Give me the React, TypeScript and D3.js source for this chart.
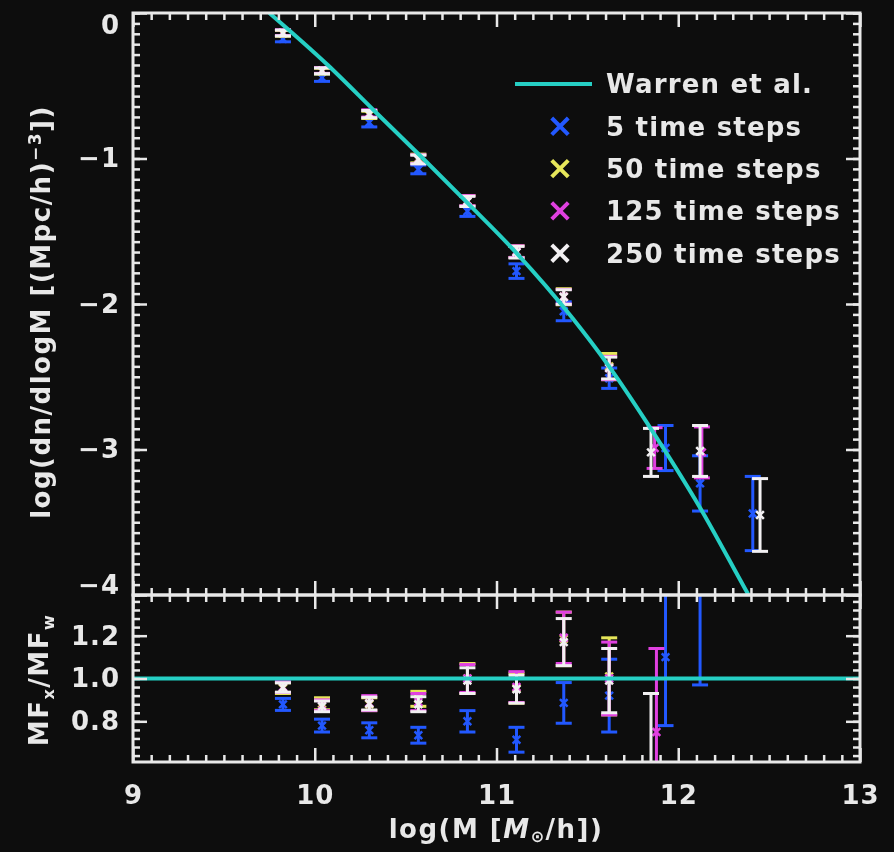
import React, { useEffect, useRef } from "react";
import * as d3 from "d3";

// --- values ---

// mass bins (log M) for each run, upper panel
const topBins5 = [9.825, 10.04, 10.3, 10.57, 10.84, 11.11, 11.37, 11.62, 11.93, 12.12, 12.41];
const topBins50 = [9.825, 10.04, 10.3, 10.57, 10.84, 11.11, 11.37, 11.62];
const topBins125 = [9.825, 10.04, 10.3, 10.57, 10.84, 11.11, 11.37, 11.62, 11.87, 12.13];
const topBins250 = [9.825, 10.04, 10.3, 10.57, 10.84, 11.11, 11.37, 11.62, 11.85, 12.12, 12.45];

// log(dn/dlogM) and half error bars
const top5 = [-0.178, -0.445, -0.753, -1.075, -1.363, -1.774, -2.05, -2.51, -2.99, -3.233, -3.44];
const top5Err = [0.02, 0.025, 0.03, 0.03, 0.035, 0.05, 0.065, 0.07, 0.155, 0.19, 0.255];
const top50 = [-0.14, -0.4, -0.7, -1.0, -1.29, -1.64, -1.95, -2.43];
const top50Err = [0.02, 0.02, 0.025, 0.03, 0.035, 0.04, 0.055, 0.09];
const top125 = [-0.135, -0.395, -0.69, -1.005, -1.29, -1.64, -1.95, -2.44, -2.99, -3.02];
const top125Err = [0.02, 0.02, 0.025, 0.03, 0.035, 0.04, 0.05, 0.08, 0.14, 0.175];
const top250 = [-0.137, -0.397, -0.695, -1.007, -1.295, -1.644, -1.952, -2.44, -3.02, -3.01, -3.45];
const top250Err = [0.02, 0.02, 0.025, 0.03, 0.035, 0.04, 0.05, 0.075, 0.165, 0.175, 0.25];

// ratio panel (MF_x / MF_w)
const botBins5 = [9.825, 10.04, 10.3, 10.57, 10.84, 11.11, 11.37, 11.62, 11.93, 12.12];
const botBins50 = [9.825, 10.04, 10.3, 10.57, 10.84, 11.11, 11.37, 11.62];
const botBins125 = [9.825, 10.04, 10.3, 10.57, 10.84, 11.11, 11.37, 11.62, 11.88];
const botBins250 = [9.825, 10.04, 10.3, 10.57, 10.84, 11.11, 11.37, 11.62, 11.85];

const bot5 = [0.879, 0.78, 0.758, 0.735, 0.8, 0.714, 0.886, 0.92, 1.1, 1.5];
const bot5Err = [0.028, 0.03, 0.035, 0.037, 0.05, 0.058, 0.095, 0.17, 0.32, 0.53];
const bot50 = [0.955, 0.882, 0.88, 0.905, 1.0, 0.955, 1.185, 1.01];
const bot50Err = [0.025, 0.028, 0.03, 0.035, 0.07, 0.07, 0.125, 0.18];
const bot125 = [0.96, 0.875, 0.885, 0.89, 1.0, 0.96, 1.19, 1.0, 0.75];
const bot125Err = [0.025, 0.025, 0.035, 0.04, 0.065, 0.072, 0.12, 0.17, 0.39];
const bot250 = [0.958, 0.87, 0.883, 0.88, 0.99, 0.95, 1.17, 0.99, 0.55];
const bot250Err = [0.022, 0.025, 0.03, 0.035, 0.06, 0.065, 0.11, 0.15, 0.38];

// Warren et al. fit
const warrenLogM = [9.75, 10.07, 10.33, 10.6, 10.84, 11.09, 11.42, 11.62, 11.83, 12.12, 12.36, 12.4];
const warrenLogN = [0, -0.356, -0.675, -1.005, -1.305, -1.623, -2.1, -2.43, -2.82, -3.4, -3.94, -4.03];

const legendLabels = ["Warren et al.", "5 time steps", "50 time steps", "125 time steps", "250 time steps"];

const xTicks = [9, 10, 11, 12, 13];
const yTopTicks = [0, -1, -2, -3, -4];
const yBotTicks = [0.8, 1.0, 1.2];

const BG = "#0e0e0e";
const AXIS = "#e8e8e8";
const CYAN = "#25cfc4";
const BLUE = "#2358ff";
const YELLOW = "#e6e65a";
const MAGENTA = "#e040e0";
const WHITE = "#f2f0f2";
const FONT = "'DejaVu Sans', 'Liberation Sans', sans-serif";

const series = [
  { color: BLUE, tx: topBins5, ty: top5, te: top5Err, bx: botBins5, by: bot5, be: bot5Err },
  { color: YELLOW, tx: topBins50, ty: top50, te: top50Err, bx: botBins50, by: bot50, be: bot50Err },
  { color: MAGENTA, tx: topBins125, ty: top125, te: top125Err, bx: botBins125, by: bot125, be: bot125Err },
  { color: WHITE, tx: topBins250, ty: top250, te: top250Err, bx: botBins250, by: bot250, be: bot250Err },
];

export default function App() {
  const svgRef = useRef<SVGSVGElement>(null);
  const width = 894;
  const height = 852;

  useEffect(() => {
    document.body.style.margin = "0";
    document.body.style.background = BG;

    const svg = d3.select(svgRef.current);
    svg.selectAll("*").remove();

    const left = 133, right = 860, top = 13, mid = 595, bottom = 762;

    const x = d3.scaleLinear().domain([9, 13]).range([left, right]);
    const yTop = d3.scaleLinear().domain([-4, 0]).range([mid, top]);
    const yBot = d3.scaleLinear().domain([0.61, 1.39]).range([bottom, mid]);

    const defs = svg.append("defs");
    defs.append("filter").attr("id", "soft")
      .attr("x", "-5%").attr("y", "-5%").attr("width", "110%").attr("height", "110%")
      .append("feGaussianBlur").attr("stdDeviation", "0.7 0.5");
    defs.append("clipPath").attr("id", "clipTop")
      .append("rect").attr("x", left).attr("y", top).attr("width", right - left).attr("height", mid - top);
    defs.append("clipPath").attr("id", "clipBot")
      .append("rect").attr("x", left).attr("y", mid).attr("width", right - left).attr("height", bottom - mid);

    const root = svg.append("g").attr("filter", "url(#soft)");
    root.append("rect").attr("width", width).attr("height", height).attr("fill", BG);

    // --- error bars with X markers ---
    const drawErrors = (g, xs, ys, es, yScale, color) => {
      const data = xs.map((d, i) => ({ x: d, y: ys[i], e: es[i] }));
      const grp = g.append("g").attr("stroke", color).attr("stroke-width", 3).attr("fill", "none");
      grp.selectAll(".bar").data(data).join("line")
        .attr("x1", d => x(d.x)).attr("x2", d => x(d.x))
        .attr("y1", d => yScale(d.y - d.e)).attr("y2", d => yScale(d.y + d.e));
      [-1, 1].forEach(s => {
        grp.selectAll(".cap" + s).data(data).join("line")
          .attr("x1", d => x(d.x) - 8).attr("x2", d => x(d.x) + 8)
          .attr("y1", d => yScale(d.y + s * d.e)).attr("y2", d => yScale(d.y + s * d.e));
      });
      grp.selectAll(".mk").data(data).join("path")
        .attr("d", d3.symbol(d3.symbolX, 40))
        .attr("stroke-width", 2.5)
        .attr("transform", d => `translate(${x(d.x)},${yScale(d.y)})`);
    };

    const topG = root.append("g").attr("clip-path", "url(#clipTop)");
    const botG = root.append("g").attr("clip-path", "url(#clipBot)");

    series.forEach(s => {
      drawErrors(topG, s.tx, s.ty, s.te, yTop, s.color);
      drawErrors(botG, s.bx, s.by, s.be, yBot, s.color);
    });

    // --- Warren et al. curve ---
    const line = d3.line<number>()
      .x(d => x(d))
      .y((d, i) => yTop(warrenLogN[i]))
      .curve(d3.curveMonotoneX);
    topG.append("path")
      .attr("d", line(warrenLogM))
      .attr("fill", "none").attr("stroke", CYAN).attr("stroke-width", 4);

    botG.append("line")
      .attr("x1", left).attr("x2", right)
      .attr("y1", yBot(1)).attr("y2", yBot(1))
      .attr("stroke", CYAN).attr("stroke-width", 4);

    // --- axes ---
    const xMinor = d3.range(9, 13.001, 0.1).filter(v => Math.abs(v - Math.round(v)) > 1e-6);
    const yTopMinor = d3.range(-4, 0.001, 1 / 14);
    const yBotMinor = d3.range(0.64, 1.38, 0.04);

    const styleAxis = (g) => {
      g.select(".domain").remove();
      g.selectAll("line").attr("stroke", AXIS).attr("stroke-width", 2.5);
      g.selectAll("text")
        .attr("fill", AXIS)
        .style("font-family", FONT)
        .style("font-size", "26px")
        .style("font-weight", "bold")
        .style("letter-spacing", "1px");
    };

    const addAxis = (axisFn, scale, pos, majors, minors, labels, fmt?) => {
      const isX = axisFn === d3.axisTop || axisFn === d3.axisBottom;
      const tr = isX ? `translate(0,${pos})` : `translate(${pos},0)`;
      const minorG = root.append("g").attr("transform", tr)
        .call(axisFn(scale).tickValues(minors).tickSize(-7).tickSizeOuter(0).tickFormat(() => ""));
      styleAxis(minorG);
      const majorAxis = axisFn(scale).tickValues(majors).tickSize(-14).tickSizeOuter(0)
        .tickPadding(isX ? 24 : 13);
      if (!labels) majorAxis.tickFormat(() => "");
      else if (fmt) majorAxis.tickFormat(fmt);
      const majorG = root.append("g").attr("transform", tr).call(majorAxis);
      styleAxis(majorG);
      return majorG;
    };

    const yLeftTop = addAxis(d3.axisLeft, yTop, left, yTopTicks, yTopMinor, true, d3.format("d"));
    // end labels sit a little inside the frame
    yLeftTop.selectAll(".tick text").attr("y", d => (d === 0 ? 12 : d === -4 ? -10 : 0));
    addAxis(d3.axisRight, yTop, right, yTopTicks, yTopMinor, false);
    addAxis(d3.axisTop, x, top, xTicks, xMinor, false);
    addAxis(d3.axisBottom, x, mid, xTicks, xMinor, false);

    addAxis(d3.axisLeft, yBot, left, yBotTicks, yBotMinor, true, d3.format(".1f"));
    addAxis(d3.axisRight, yBot, right, yBotTicks, yBotMinor, false);
    addAxis(d3.axisTop, x, mid, xTicks, xMinor, false);
    addAxis(d3.axisBottom, x, bottom, xTicks, xMinor, true, d3.format("d"));

    // frames
    [[top, mid], [mid, bottom]].forEach(([y0, y1]) => {
      root.append("rect")
        .attr("x", left).attr("y", y0).attr("width", right - left).attr("height", y1 - y0)
        .attr("fill", "none").attr("stroke", AXIS).attr("stroke-width", 3);
    });

    // --- axis titles ---
    const title = (g) => g.attr("fill", AXIS)
      .style("font-family", FONT).style("font-size", "26px").style("font-weight", "bold")
      .style("letter-spacing", "1.5px").attr("text-anchor", "middle");

    const yt = root.append("text").attr("transform", "translate(50,312) rotate(-90)").call(title);
    yt.append("tspan").text("log(dn/dlogM [(Mpc/h)");
    yt.append("tspan").attr("dy", -9).style("font-size", "17px").text("−3");
    yt.append("tspan").attr("dy", 9).text("])");

    const yb = root.append("text").attr("transform", "translate(48,680) rotate(-90)").call(title);
    yb.append("tspan").text("MF");
    yb.append("tspan").attr("dy", 6).style("font-size", "16px").text("x");
    yb.append("tspan").attr("dy", -6).text("/MF");
    yb.append("tspan").attr("dy", 6).style("font-size", "16px").text("w");

    const xt = root.append("text").attr("x", 496).attr("y", 838).call(title);
    xt.append("tspan").text("log(M [");
    xt.append("tspan").style("font-style", "italic").text("M");
    xt.append("tspan").attr("dy", 4).style("font-size", "16px").text("⊙");
    xt.append("tspan").attr("dy", -4).text("/h])");

    // --- legend ---
    const lg = root.append("g");
    const rowY = i => 84 + i * 42.3;
    lg.append("line")
      .attr("x1", 515).attr("x2", 592).attr("y1", rowY(0)).attr("y2", rowY(0))
      .attr("stroke", CYAN).attr("stroke-width", 4);
    series.forEach((s, i) => {
      lg.append("path")
        .attr("d", d3.symbol(d3.symbolX, 180))
        .attr("transform", `translate(560,${rowY(i + 1)})`)
        .attr("fill", "none").attr("stroke", s.color).attr("stroke-width", 4);
    });
    lg.selectAll(".lab").data(legendLabels).join("text")
      .attr("x", 606).attr("y", (d, i) => rowY(i)).attr("dy", "0.36em")
      .attr("fill", AXIS)
      .style("font-family", FONT).style("font-size", "26px").style("font-weight", "bold")
      .style("letter-spacing", "1.2px")
      .text(d => d);
  }, []);

  return <svg ref={svgRef} width={width} height={height} style={{ display: "block", background: BG }} />;
}
